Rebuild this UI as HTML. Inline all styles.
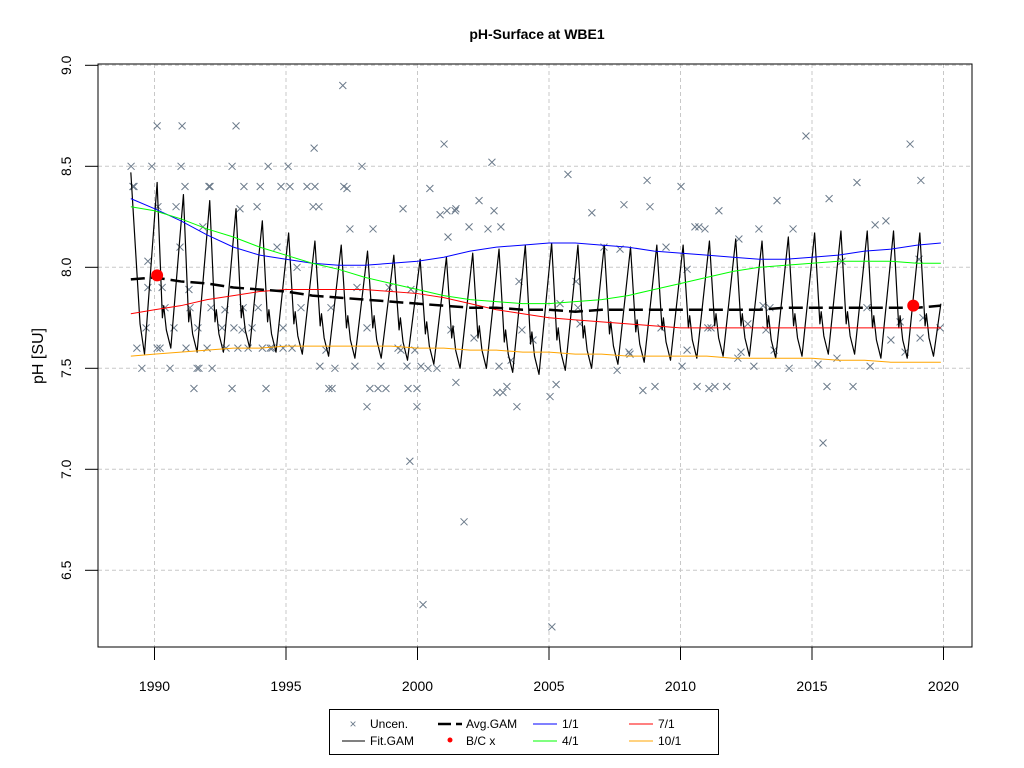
<!DOCTYPE html>
<html><head><meta charset="utf-8"><style>
html,body{margin:0;padding:0;background:#fff;width:1024px;height:768px;overflow:hidden}
svg{font-family:"Liberation Sans",Arial,sans-serif}
</style></head><body>
<svg id="chart" width="1024" height="768" xmlns="http://www.w3.org/2000/svg">
<text x="537" y="39" text-anchor="middle" font-size="14" font-weight="bold">pH-Surface at WBE1</text>
<text transform="translate(43,356) rotate(-90)" text-anchor="middle" font-size="16">pH [SU]</text>
<g id="grid"></g>
<g id="marks"></g>
<rect x="98" y="64" width="874" height="583" fill="none" stroke="#000" stroke-width="1"/>
<g id="axes"></g>
<g>
<rect x="329.5" y="709.5" width="389" height="45" fill="#fff" stroke="#000"/>
<g><text x="353" y="728" text-anchor="middle" font-size="12" fill="#6c7b8b">×</text><text x="370" y="728" font-size="12">Uncen.</text></g>
<g><line x1="342" y1="741" x2="365" y2="741" stroke="#000"/><text x="370" y="745" font-size="12">Fit.GAM</text></g>
<g><line x1="438" y1="724" x2="451" y2="724" stroke="#000" stroke-width="2.5"/><line x1="456" y1="724" x2="462" y2="724" stroke="#000" stroke-width="2.5"/><text x="466" y="728" font-size="12">Avg.GAM</text></g>
<g><circle cx="450" cy="740" r="2.5" fill="red"/><text x="466" y="745" font-size="12">B/C x</text></g>
<g><line x1="533" y1="724" x2="557" y2="724" stroke="blue"/><text x="562" y="728" font-size="12">1/1</text></g>
<g><line x1="533" y1="741" x2="557" y2="741" stroke="#0f0"/><text x="562" y="745" font-size="12">4/1</text></g>
<g><line x1="629" y1="724" x2="653" y2="724" stroke="red"/><text x="658" y="728" font-size="12">7/1</text></g>
<g><line x1="629" y1="741" x2="653" y2="741" stroke="orange"/><text x="658" y="745" font-size="12">10/1</text></g>
</g>
</svg>
<script>
const xTicks=[1990,1995,2000,2005,2010,2015,2020];
const yTicks=[6.5,7.0,7.5,8.0,8.5,9.0];
const yTickLabels=["6.5","7.0","7.5","8.0","8.5","9.0"];
const obsYears=[1989.11,1989.18,1989.22,1989.33,1989.52,1989.68,1989.75,1989.75,1989.90,1990.10,1990.13,1990.10,1990.21,1990.29,1990.40,1990.59,1990.74,1990.82,1990.97,1991.05,1991.01,1991.16,1991.20,1991.31,1991.35,1991.50,1991.62,1991.69,1991.65,1991.84,1992.00,1992.07,1992.11,1992.15,1992.19,1992.57,1992.68,1992.72,1992.95,1992.95,1993.02,1993.10,1993.17,1993.25,1993.33,1993.37,1993.40,1993.56,1993.71,1993.90,1993.94,1994.02,1994.10,1994.24,1994.32,1994.40,1994.47,1994.66,1994.81,1994.89,1994.89,1995.08,1995.15,1995.23,1995.42,1995.57,1995.80,1996.07,1996.03,1996.10,1996.25,1996.29,1996.52,1996.63,1996.71,1996.75,1996.86,1997.16,1997.20,1997.32,1997.43,1997.62,1997.70,1997.89,1998.08,1998.08,1998.19,1998.31,1998.50,1998.61,1998.80,1998.92,1999.26,1999.37,1999.45,1999.60,1999.64,1999.71,1999.75,1999.90,1999.98,1999.98,2000.13,2000.21,2000.40,2000.47,2000.74,2000.86,2001.01,2001.12,2001.16,2001.27,2001.43,2001.46,2001.46,2001.77,2001.96,2002.15,2002.34,2002.68,2002.83,2002.91,2003.02,2003.10,2003.17,2003.40,2003.56,2003.25,2003.78,2003.86,2003.97,2004.39,2005.04,2005.11,2005.27,2005.42,2005.72,2006.03,2006.10,2006.18,2006.63,2007.09,2007.59,2007.70,2007.85,2008.04,2008.08,2008.57,2008.73,2008.84,2009.03,2009.26,2009.45,2010.02,2010.06,2010.25,2010.25,2010.55,2010.63,2010.70,2010.93,2011.04,2011.08,2011.16,2011.31,2011.46,2011.76,2012.18,2012.22,2012.30,2012.56,2012.79,2012.98,2013.14,2013.25,2013.40,2013.56,2013.67,2014.13,2014.28,2014.77,2015.23,2015.42,2015.57,2015.65,2015.95,2016.14,2016.56,2016.71,2017.09,2017.21,2017.40,2017.81,2018.00,2018.35,2018.54,2018.73,2019.07,2019.11,2019.14,2019.22,2019.87,2020.06];
const obsValues=[8.50,8.40,8.40,7.60,7.50,7.70,7.90,8.03,8.50,8.70,8.30,7.60,7.60,7.90,7.80,7.50,7.70,8.30,8.10,8.70,8.50,8.40,7.60,7.89,7.80,7.40,7.50,7.50,7.70,8.20,7.60,8.40,8.40,7.80,7.50,7.70,7.79,7.60,8.50,7.40,7.70,8.70,7.60,8.29,7.69,7.80,8.40,7.60,7.70,8.30,7.80,8.40,7.60,7.40,8.50,7.60,7.60,8.10,8.40,7.60,7.70,8.50,8.40,7.60,8.00,7.80,8.40,8.59,8.30,8.40,8.30,7.51,7.59,7.40,7.80,7.40,7.50,8.90,8.40,8.39,8.19,7.51,7.90,8.50,7.31,7.70,7.40,8.19,7.40,7.51,7.40,7.90,7.60,7.59,8.29,7.51,7.40,7.04,7.89,7.59,7.31,7.40,7.51,6.33,7.50,8.39,7.50,8.26,8.61,8.28,8.15,7.69,8.28,8.29,7.43,6.74,8.20,7.65,8.33,8.19,8.52,8.28,7.38,7.51,8.20,7.41,7.54,7.38,7.31,7.93,7.69,7.64,7.36,6.22,7.42,7.82,8.46,7.93,7.80,7.72,8.27,8.10,7.49,8.09,8.31,7.58,7.57,7.39,8.43,8.30,7.41,7.70,8.10,8.40,7.51,7.99,7.59,8.20,7.41,8.20,8.19,7.70,7.40,7.70,7.41,8.28,7.41,7.55,8.14,7.58,7.72,7.51,8.19,7.81,7.69,7.80,7.59,8.33,7.50,8.19,8.65,7.52,7.13,7.41,8.34,7.55,8.03,7.41,8.42,7.80,7.51,8.21,8.23,7.64,7.73,7.58,8.61,8.04,7.65,8.43,7.75,7.70];
const peakYears=[1990,1991,1992,1993,1994,1995,1996,1997,1998,1999,2000,2001,2002,2003,2004,2005,2006,2007,2008,2009,2010,2011,2012,2013,2014,2015,2016,2017,2018,2019];
const peakValues=[8.42,8.36,8.33,8.29,8.23,8.17,8.13,8.11,8.08,8.06,8.04,8.05,8.07,8.09,8.11,8.12,8.11,8.11,8.10,8.11,8.11,8.13,8.14,8.13,8.15,8.17,8.18,8.18,8.18,8.17];
const troughYears=[1989,1990,1991,1992,1993,1994,1995,1996,1997,1998,1999,2000,2001,2002,2003,2004,2005,2006,2007,2008,2009,2010,2011,2012,2013,2014,2015,2016,2017,2018,2019];
const troughValues=[7.57,7.60,7.58,7.58,7.60,7.58,7.57,7.56,7.55,7.55,7.54,7.52,7.50,7.50,7.48,7.47,7.49,7.50,7.52,7.53,7.54,7.55,7.56,7.56,7.55,7.56,7.57,7.57,7.55,7.55,7.56];
const fitStart=[1989.1,8.47];
const fitEnd=[2019.9,7.82];
const lineYears=[1989.1,1990,1991,1992,1993,1994,1995,1996,1997,1998,1999,2000,2001,2002,2003,2004,2005,2006,2007,2008,2009,2010,2011,2012,2013,2014,2015,2016,2017,2018,2019,2019.9];
const avgGam=[7.94,7.95,7.93,7.92,7.90,7.89,7.88,7.86,7.85,7.84,7.83,7.82,7.81,7.80,7.80,7.79,7.79,7.78,7.79,7.79,7.79,7.79,7.79,7.79,7.79,7.80,7.80,7.80,7.80,7.80,7.80,7.81];
const s11=[8.34,8.29,8.23,8.16,8.10,8.06,8.04,8.02,8.01,8.01,8.02,8.03,8.05,8.08,8.10,8.11,8.12,8.12,8.11,8.10,8.08,8.07,8.06,8.05,8.04,8.04,8.05,8.06,8.08,8.09,8.11,8.12];
const s41=[8.30,8.28,8.24,8.19,8.15,8.10,8.06,8.02,7.99,7.95,7.92,7.89,7.86,7.84,7.83,7.82,7.82,7.83,7.84,7.86,7.89,7.92,7.95,7.98,8.00,8.01,8.02,8.03,8.03,8.03,8.02,8.02];
const s71=[7.77,7.79,7.81,7.84,7.86,7.88,7.89,7.89,7.89,7.89,7.88,7.87,7.85,7.82,7.79,7.77,7.75,7.74,7.73,7.72,7.71,7.70,7.70,7.70,7.70,7.70,7.70,7.70,7.70,7.70,7.70,7.70];
const s101=[7.56,7.57,7.58,7.59,7.60,7.60,7.61,7.61,7.61,7.61,7.61,7.60,7.60,7.59,7.59,7.58,7.58,7.57,7.57,7.56,7.56,7.56,7.56,7.55,7.55,7.55,7.55,7.54,7.54,7.53,7.53,7.53];
const bcYears=[1990.1,2018.85];
const bcValues=[7.96,7.81];

const NS="http://www.w3.org/2000/svg";
const X=yr=>154.5+(yr-1990)*26.3;
const Y=v=>267.3-(v-8)*202;
function mk(tag,attrs,parent){const e=document.createElementNS(NS,tag);for(const k in attrs)e.setAttribute(k,attrs[k]);parent.appendChild(e);return e;}
const grid=document.getElementById('grid'),marks=document.getElementById('marks'),axes=document.getElementById('axes');
xTicks.forEach(t=>{
  const g=mk('line',{x1:X(t),x2:X(t),y1:64,y2:647,stroke:'#c8c8c8','stroke-dasharray':'4,3'},grid);
  
  
  const tk=mk('line',{x1:X(t),x2:X(t),y1:647,y2:660,stroke:'#000'},axes);
  
  
  const lb=mk('text',{x:X(t),y:691,'text-anchor':'middle','font-size':14},axes);
  lb.textContent=t;
  
  
});
yTicks.forEach((t,i)=>{
  const g=mk('line',{x1:98,x2:972,y1:Y(t),y2:Y(t),stroke:'#c8c8c8','stroke-dasharray':'4,3'},grid);
  
  
  const tk=mk('line',{x1:85,x2:98,y1:Y(t),y2:Y(t),stroke:'#000'},axes);
  
  
  const lb=mk('text',{transform:`translate(71,${Y(t)}) rotate(-90)`,'text-anchor':'middle','font-size':14},axes);
  lb.textContent=yTickLabels[i];
  
  
});
obsYears.forEach((yr,i)=>{
  const cx=X(yr),cy=Y(obsValues[i]);
  const p=mk('path',{d:`M${cx-3.5},${cy-3.5}L${cx+3.5},${cy+3.5}M${cx-3.5},${cy+3.5}L${cx+3.5},${cy-3.5}`,stroke:'#6c7b8b','stroke-width':1},marks);
  
  
});
// fit gam: peak at yr+0.1, shoulder notch on descent, trough at yr+0.62
let pts=[[fitStart[0],fitStart[1]]];
for(let i=0;i<troughYears.length;i++){
  const ty=troughYears[i],tv=troughValues[i];
  const pi0=peakYears.indexOf(ty);
  const pv=pi0>=0?peakValues[pi0]:fitStart[1];
  if(ty>=1990){
    pts.push([ty+0.3,tv+0.15]);
    pts.push([ty+0.35,tv+0.21]);
    pts.push([ty+0.45,tv+0.09]);
  } else {
    pts.push([ty+0.45,tv+0.15]);
  }
  pts.push([ty+0.62,tv]);
  const pi=peakYears.indexOf(ty+1);
  if(pi>=0)pts.push([peakYears[pi]+0.1,peakValues[pi]]);
}
pts.push(fitEnd);
const fit=mk('polyline',{points:pts.filter(p=>p[0]<=2019.95).map(p=>X(p[0])+','+Y(p[1])).join(' '),fill:'none',stroke:'#000','stroke-width':1.2,'stroke-linejoin':'round'},marks);


function line(vals,color,name,w,dash){
  const l=mk('polyline',{points:lineYears.map((yr,i)=>X(yr)+','+Y(vals[i])).join(' '),fill:'none',stroke:color,'stroke-width':w||1},marks);
  if(dash)l.setAttribute('stroke-dasharray',dash);
  
  
}
line(s11,'blue','line-1-1');
line(s41,'#00ff00','line-4-1');
line(s71,'red','line-7-1');
line(s101,'orange','line-10-1');
line(avgGam,'#000','avg-gam-line',2.5,'14,6');
bcYears.forEach((yr,i)=>{
  const c=mk('circle',{cx:X(yr),cy:Y(bcValues[i]),r:6,fill:'red'},marks);
  
  
});
</script>
</body></html>
